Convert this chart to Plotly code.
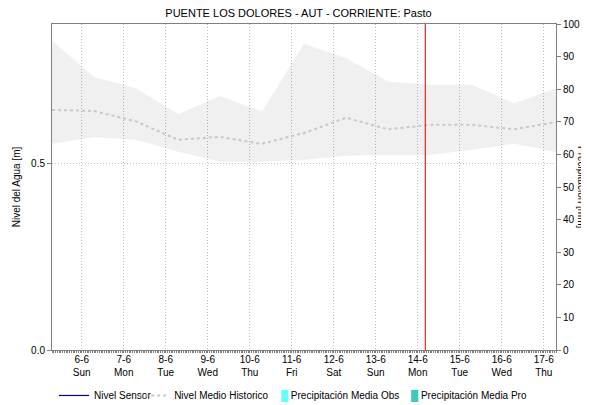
import plotly.graph_objects as go
import pandas as pd

title_text = "PUENTE LOS DOLORES - AUT - CORRIENTE: Pasto"
dates = pd.date_range("2021-06-05 07:00", periods=13, freq="D")
upper = [0.829, 0.731, 0.701, 0.632, 0.680, 0.639, 0.820, 0.782, 0.719, 0.710, 0.710, 0.661, 0.701]
mean_hist = [0.643, 0.640, 0.612, 0.563, 0.571, 0.552, 0.581, 0.622, 0.591, 0.603, 0.603, 0.591, 0.610]
lower = [0.552, 0.570, 0.563, 0.531, 0.504, 0.504, 0.509, 0.520, 0.522, 0.522, 0.536, 0.552, 0.530]
now_time = "2021-06-14 04:20"
tick_days = pd.date_range("2021-06-06", "2021-06-17", freq="D")
tick_labels = [f"{d.day}-{d.month}<br>{d.strftime('%a')}" for d in tick_days]
obs_color = "#66ffff"
pro_color = "#40c8c0"

font = "Liberation Sans, Arial, sans-serif"
fig = go.Figure()
fig.add_trace(go.Scatter(x=dates, y=lower, mode="lines", line=dict(width=0),
                         showlegend=False, hoverinfo="skip"))
fig.add_trace(go.Scatter(x=dates, y=upper, mode="lines", line=dict(width=0),
                         fill="tonexty", fillcolor="rgba(0,0,0,0.06)",
                         showlegend=False, hoverinfo="skip"))
fig.add_trace(go.Scatter(x=[None], y=[None], mode="lines", name="Nivel Sensor",
                         line=dict(color="#000080", width=1.2), legend="legend"))
fig.add_trace(go.Scatter(x=dates, y=mean_hist, mode="lines", name="Nivel Medio Historico",
                         line=dict(color="#c8c8c8", width=2, dash="dot"), legend="legend2"))
# precipitation series are empty; their legend swatch is drawn as a coloured block glyph
fig.add_trace(go.Bar(x=[None], y=[None],
                     name=f"<span style='color:{obs_color}'>█</span> Precipitación Media Obs",
                     marker=dict(color="rgba(0,0,0,0)", line=dict(width=0)),
                     yaxis="y2", legend="legend3"))
fig.add_trace(go.Bar(x=[None], y=[None],
                     name=f"<span style='color:{pro_color}'>█</span> Precipitación Media Pro",
                     marker=dict(color="rgba(0,0,0,0)", line=dict(width=0)),
                     yaxis="y2", legend="legend4"))

fig.add_shape(type="line", x0=now_time, x1=now_time, y0=0, y1=1, yref="paper",
              line=dict(color="#ff2020", width=1.2))

def leg(x):
    return dict(orientation="h", x=x, xanchor="left", y=-0.095, yanchor="top",
                font=dict(size=10, family=font), itemwidth=30,
                bgcolor="rgba(0,0,0,0)")

# page body adds an 8px offset, so the figure is sized/margined to compensate
fig.update_layout(
    width=581, height=397,
    margin=dict(l=44, r=33, t=16, b=55, autoexpand=False),
    paper_bgcolor="white", plot_bgcolor="white",
    font=dict(family=font, size=10, color="#000000"),
    title=dict(text=title_text, x=0.5, xanchor="center", y=0.987, yanchor="middle",
               font=dict(size=11, family=font, color="#000")),
    showlegend=True,
    legend=leg(0.004), legend2=leg(0.163), legend3=leg(0.375), legend4=leg(0.633),
    xaxis=dict(
        type="date", range=[dates[0], dates[-1]],
        tickvals=tick_days, ticktext=tick_labels,
        showgrid=True, gridcolor="#c0c0c0", griddash="1px,2px", gridwidth=1,
        showline=True, linecolor="#808080", linewidth=1, mirror=True,
        ticks="", tickfont=dict(size=10),
        minor=dict(dtick=3600000, ticks="outside", ticklen=2, tickcolor="#808080", showgrid=False),
        zeroline=False,
    ),
    yaxis=dict(
        range=[0, 0.873], tickvals=[0, 0.5], ticktext=["0.0", "0.5"],
        showgrid=True, gridcolor="#c0c0c0", griddash="1px,2px", gridwidth=1,
        showline=True, linecolor="#808080", linewidth=1,
        ticks="outside", ticklen=4, tickcolor="#808080", zeroline=False,
        title=dict(text="Nivel del Agua [m]", font=dict(size=10), standoff=8),
    ),
    yaxis2=dict(
        range=[0, 100], dtick=10, overlaying="y", side="right",
        showgrid=False, showline=True, linecolor="#808080", linewidth=1,
        ticks="outside", ticklen=4, tickcolor="#808080", zeroline=False,
        tickfont=dict(size=10),
    ),
    bargap=0.2,
)
fig.add_annotation(text="Precipitación [mm]", textangle=90, xref="paper", yref="paper",
                   x=1.0, xshift=26, y=0.5, xanchor="center", yanchor="middle", showarrow=False,
                   font=dict(size=10, family=font))
fig.write_html("out.html")
